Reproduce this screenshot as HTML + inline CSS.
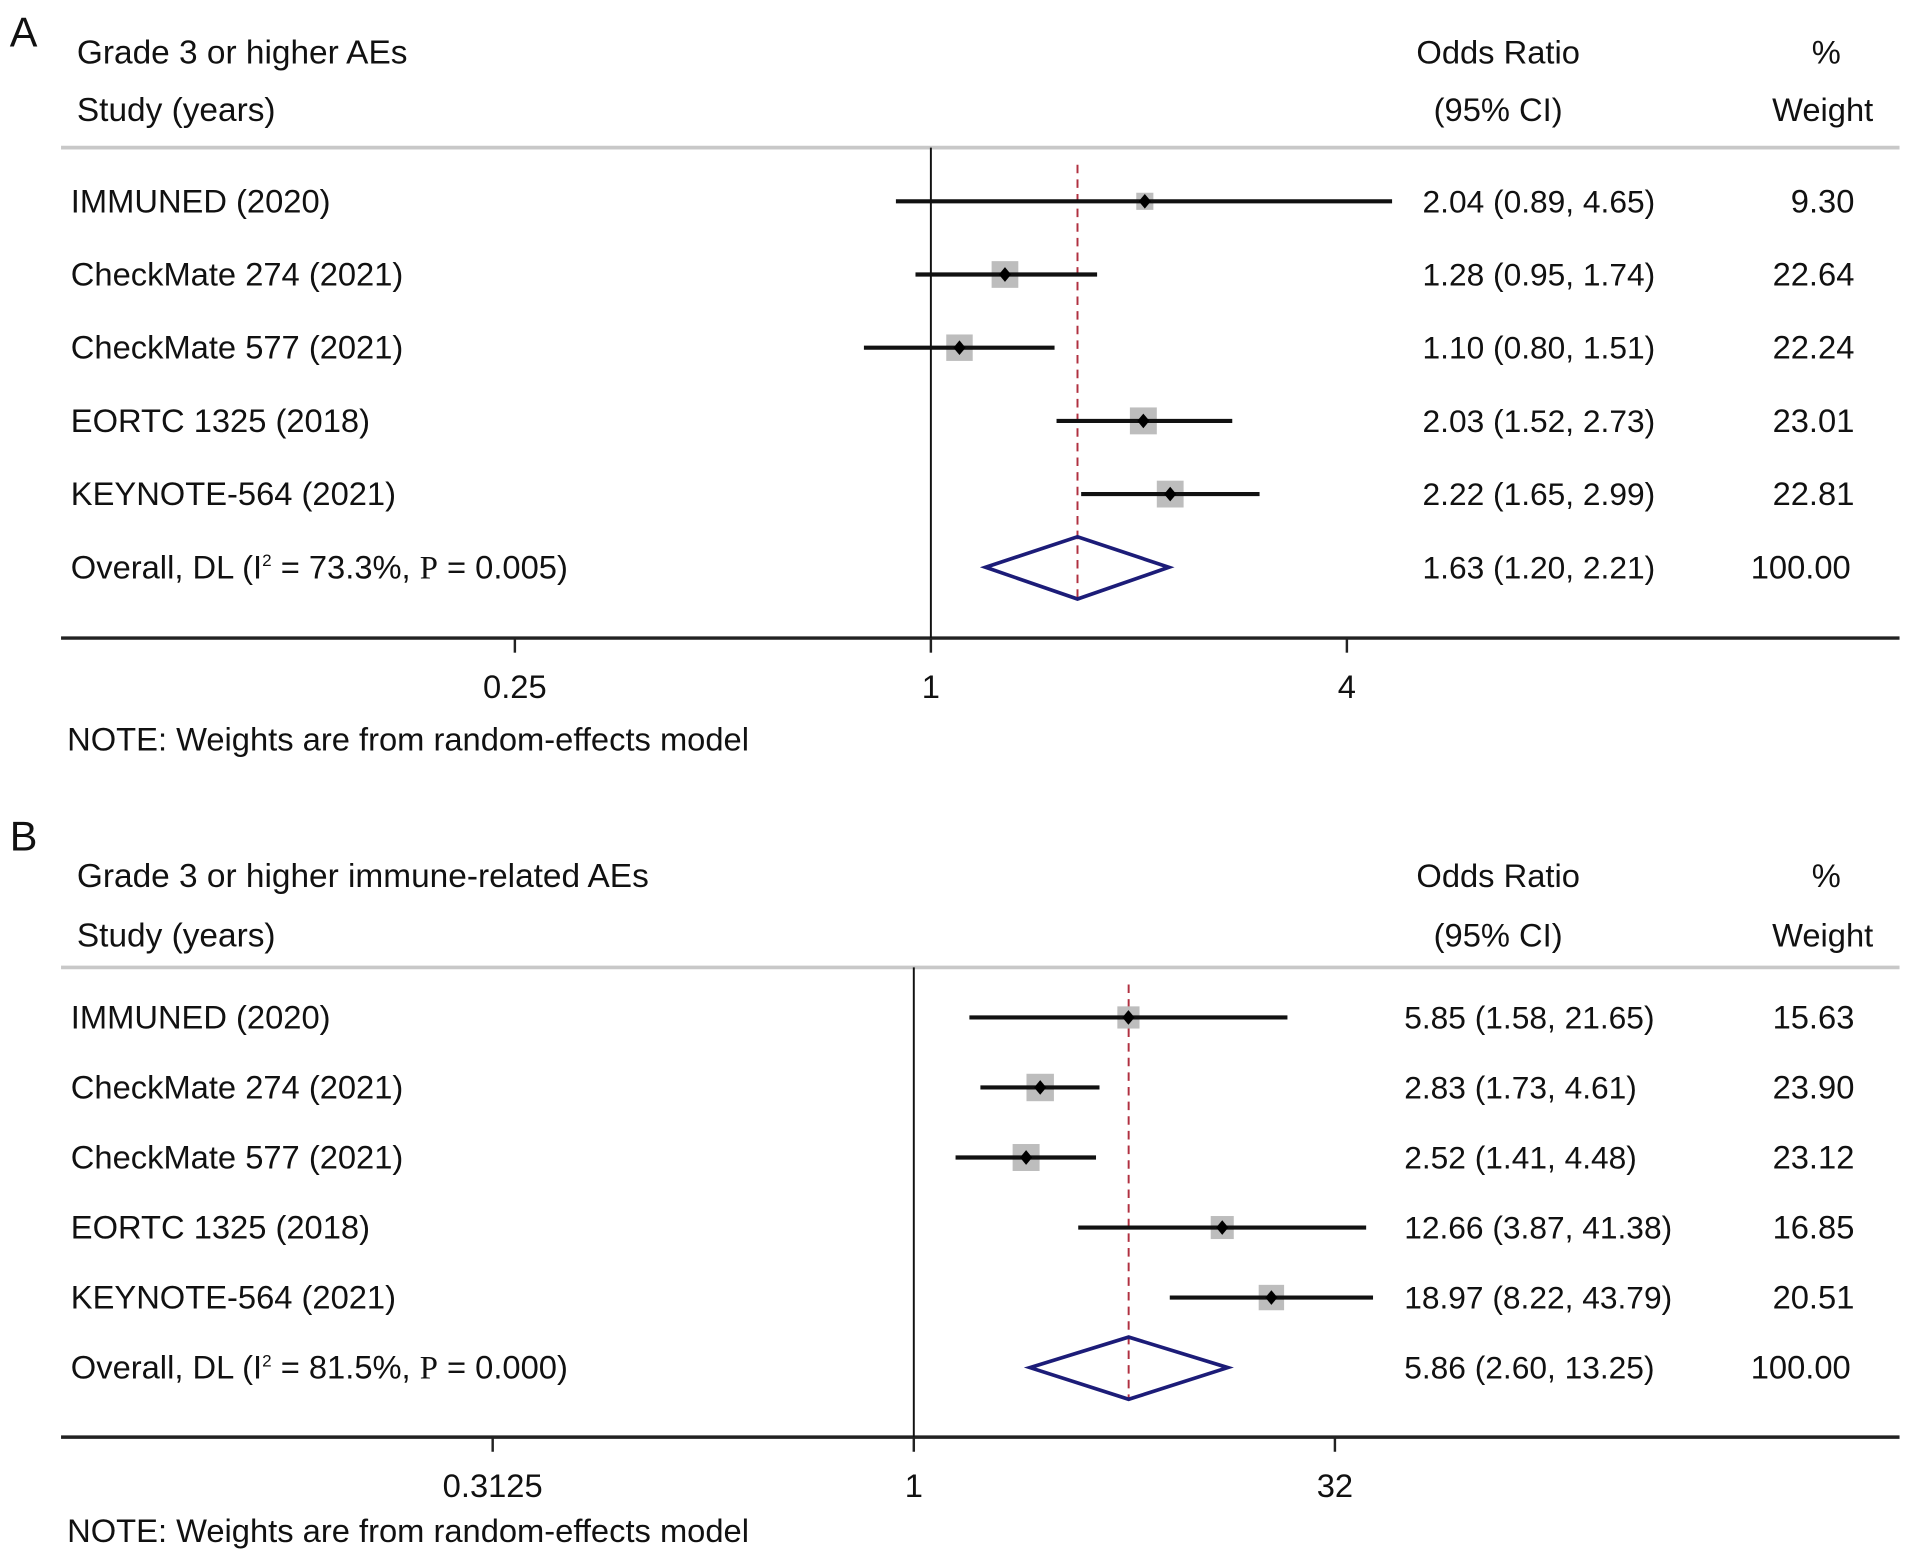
<!DOCTYPE html>
<html><head><meta charset="utf-8">
<style>
html,body{margin:0;padding:0;background:#fff;}
svg{display:block;}
text{font-family:"Liberation Sans",Arial,sans-serif;fill:#111;}
</style></head>
<body>
<svg id="fig" width="1913" height="1564" viewBox="0 0 1568 1282" xmlns="http://www.w3.org/2000/svg"></svg>
<script>
// Panel A data
const studiesA = ["IMMUNED (2020)","CheckMate 274 (2021)","CheckMate 577 (2021)","EORTC 1325 (2018)","KEYNOTE-564 (2021)"];
const orA = [2.04,1.28,1.10,2.03,2.22];
const lowA = [0.89,0.95,0.80,1.52,1.65];
const highA = [4.65,1.74,1.51,2.73,2.99];
const weightA = [9.30,22.64,22.24,23.01,22.81];
const overallA = [1.63,1.20,2.21];
const ticksA = [0.25,1,4];
const tickLabelsA = ["0.25","1","4"];
// Panel B data
const studiesB = ["IMMUNED (2020)","CheckMate 274 (2021)","CheckMate 577 (2021)","EORTC 1325 (2018)","KEYNOTE-564 (2021)"];
const orB = [5.85,2.83,2.52,12.66,18.97];
const lowB = [1.58,1.73,1.41,3.87,8.22];
const highB = [21.65,4.61,4.48,41.38,43.79];
const weightB = [15.63,23.90,23.12,16.85,20.51];
const overallB = [5.86,2.60,13.25];
const ticksB = [1/32,1,32];
const tickLabelsB = ["0.3125","1","32"];

const FS=26.8;
const NS="http://www.w3.org/2000/svg";
const svg=document.getElementById('fig');
function mk(tag,attrs,parent){const e=document.createElementNS(NS,tag);for(const k in attrs)e.setAttribute(k,attrs[k]);(parent||svg).appendChild(e);return e;}
function txt(x,y,s,size,anchor,parent){const t=mk('text',{x:x,y:y,'font-size':size,'text-anchor':anchor||'start'},parent);t.textContent=s;return t;}
const f2=v=>v.toFixed(2);

function panel(cfg){
  const g=mk('g',{});
  
  
  const xs=v=>cfg.x1+Math.log(v)*cfg.k;
  const L=txt(8,cfg.letterY,cfg.letter,34,'start',g);
  
  const t1=txt(63,cfg.h1,cfg.title,FS+0.6,'start',g);
  
  const t2=txt(63,cfg.h2,'Study (years)',FS+0.6,'start',g);
  
  const t3=txt(1228,cfg.h1,'Odds Ratio',FS,'middle',g);
  
  txt(1228,cfg.h2,'(95% CI)',FS,'middle',g);
  const t4=txt(1497,cfg.h1,'%',FS,'middle',g);
  
  txt(1494,cfg.h2,'Weight',FS,'middle',g);
  const gl=mk('line',{x1:50,x2:1557,y1:cfg.top,y2:cfg.top,stroke:'#c8c8c8','stroke-width':3},g);
  
  const ax=mk('line',{x1:50,x2:1557,y1:cfg.axisY,y2:cfg.axisY,stroke:'#222','stroke-width':2.8},g);
  
  const nl=mk('line',{x1:xs(1),x2:xs(1),y1:cfg.top,y2:cfg.axisY,stroke:'#111','stroke-width':1.6},g);
  
  cfg.ticks.forEach((tv,i)=>{
    const tk=mk('line',{x1:xs(tv),x2:xs(tv),y1:cfg.axisY,y2:cfg.axisY+12,stroke:'#222','stroke-width':2},g);
    
    const tl=txt(xs(tv),cfg.axisY+49,cfg.tickLabels[i],FS,'middle',g);
    
  });
  const ov=cfg.overall;
  const oy=cfg.rowY(cfg.studies.length);
  const dl=mk('line',{x1:xs(ov[0]),x2:xs(ov[0]),y1:cfg.top+14,y2:oy+27,stroke:'#b03040','stroke-width':1.6,'stroke-dasharray':'7,5'},g);
  
  cfg.studies.forEach((s,i)=>{
    const y=cfg.rowY(i);
    const sn=txt(58,y+9,s,FS,'start',g);
    
    const sz=Math.sqrt(cfg.w[i])*4.6;
    const sq=mk('rect',{x:xs(cfg.or[i])-sz/2,y:y-sz/2,width:sz,height:sz,fill:'#bdbdbd'},g);
    
    const ci=mk('line',{x1:xs(cfg.lo[i]),x2:xs(cfg.hi[i]),y1:y,y2:y,stroke:'#111','stroke-width':3.4},g);
    
    const d=5,cx=xs(cfg.or[i]);
    const pt=mk('polygon',{points:`${cx-d},${y} ${cx},${y-d-1} ${cx+d},${y} ${cx},${y+d+1}`,fill:'#000'},g);
    
    const ot=txt(cfg.orLeft,y+9,`${f2(cfg.or[i])} (${f2(cfg.lo[i])}, ${f2(cfg.hi[i])})`,26,'start',g);
    
    const wt=txt(1520,y+9,f2(cfg.w[i]),FS,'end',g);
    
  });
  const olab=mk('text',{x:58,y:oy+9,'font-size':FS},g);
  
  olab.innerHTML=`Overall, DL (I<tspan dy="-10" font-size="14">2</tspan><tspan dy="10"> = ${cfg.i2}, </tspan><tspan font-family="Liberation Serif">P</tspan> = ${cfg.p})`;
  const dm=mk('polygon',{points:`${xs(ov[1])},${oy} ${xs(ov[0])},${oy-25} ${xs(ov[2])},${oy} ${xs(ov[0])},${oy+26}`,fill:'none',stroke:'#1c1c78','stroke-width':3},g);
  
  const oot=txt(cfg.orLeft,oy+9,`${f2(ov[0])} (${f2(ov[1])}, ${f2(ov[2])})`,26,'start',g);
  
  const owt=txt(1517,oy+9,'100.00',FS,'end',g);
  
  const nt=txt(55,cfg.noteY,'NOTE: Weights are from random-effects model',FS,'start',g);
  
}

panel({name:'panel-a',letter:'A',letterY:38,title:'Grade 3 or higher AEs',h1:52,h2:99,top:121,axisY:523,
  x1:763,k:170.5/Math.LN2,ticks:ticksA,tickLabels:tickLabelsA,studies:studiesA,or:orA,lo:lowA,hi:highA,w:weightA,
  overall:overallA,rowY:i=>165+i*60,orLeft:1166,i2:'73.3%',p:'0.005',noteY:615});
panel({name:'panel-b',letter:'B',letterY:697,title:'Grade 3 or higher immune-related AEs',h1:727,h2:776,top:793,axisY:1178,
  x1:749,k:99.6,ticks:ticksB,tickLabels:tickLabelsB,studies:studiesB,or:orB,lo:lowB,hi:highB,w:weightB,
  overall:overallB,rowY:i=>834+i*57.4,orLeft:1151,i2:'81.5%',p:'0.000',noteY:1264});
</script>
</body></html>
